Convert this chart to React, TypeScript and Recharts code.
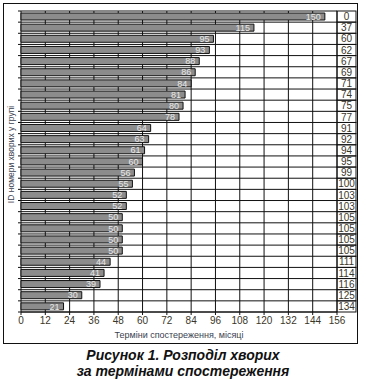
import { BarChart, Bar, XAxis, YAxis, CartesianGrid, LabelList } from "recharts";

// patient IDs (right-hand column), top to bottom
const ids = ["0", "37", "60", "62", "67", "69", "71", "74", "75", "77", "91", "92", "94", "95", "99", "100", "103", "103", "105", "105", "105", "105", "111", "114", "116", "125", "134"];
// follow-up period, months
const months = [150, 115, 95, 93, 88, 86, 84, 81, 80, 78, 64, 63, 61, 60, 56, 55, 52, 52, 50, 50, 50, 50, 44, 41, 39, 30, 21];
const xTicks = [0, 12, 24, 36, 48, 60, 72, 84, 96, 108, 120, 132, 144, 156];

const data = ids.map((id, i) => ({ row: i, id, months: months[i] }));

const W = 366;
const H = 345;
const M = { top: 11, right: 10, bottom: 0, left: 0 };
const X_AXIS_H = 33;
const ID_W = 19;
const PLOT_H = H - M.top - M.bottom - X_AXIS_H;

const font = "'Liberation Sans Narrow', 'Liberation Sans', Arial, sans-serif";
const ink = "#111";

function IdTick(props: any) {
  const { x, y, payload } = props;
  const band = PLOT_H / ids.length;
  return (
    <g>
      <rect x={x} y={y - band / 2} width={ID_W} height={band} fill="none" stroke={ink} strokeWidth={1} />
      <text x={x + ID_W / 2} y={y} dy="0.36em" textAnchor="middle" fontSize={10} fontFamily={font} fill="#3a3628">
        {ids[payload.value]}
      </text>
    </g>
  );
}

function YTitle(props: any) {
  const { viewBox } = props;
  const cx = viewBox.x + viewBox.width / 2;
  const cy = viewBox.y + viewBox.height / 2 - 7;
  return (
    <text
      x={cx}
      y={cy}
      transform={`rotate(-90 ${cx} ${cy})`}
      textAnchor="middle"
      dominantBaseline="central"
      fontSize={8.5}
      fontFamily={font}
      fill="#3b4250"
    >
      ID номери хворих у групі
    </text>
  );
}

export default function App() {
  return (
    <div style={{ position: "absolute", left: 0, top: 0, width: W, height: 379, background: "#fff" }}>
      <div style={{ position: "absolute", left: 3, top: 3, width: 355, height: 341, border: "1.5px solid #111", boxSizing: "border-box" }} />
      <div style={{ position: "absolute", left: 0, top: 0 }}>
        <BarChart width={W} height={H} data={data} layout="vertical" margin={M} barSize={7}>
          <CartesianGrid
            stroke={ink}
            strokeWidth={1}
            horizontalCoordinatesGenerator={({ offset }: any) =>
              Array.from({ length: ids.length + 1 }, (_, i) => offset.top + (i * offset.height) / ids.length)
            }
            horizontal={(p: any) => (
              <line key={`h-${p.index}`} x1={p.x1 - 3} y1={p.y1} x2={p.x2} y2={p.y2} stroke={ink} strokeWidth={1} />
            )}
          />
          <XAxis
            type="number"
            domain={[0, 156]}
            ticks={xTicks}
            interval={0}
            height={X_AXIS_H}
            tick={{ fill: "#3a3628", fontSize: 10, fontFamily: font }}
            tickSize={3}
            tickLine={{ stroke: ink }}
            axisLine={{ stroke: ink }}
            label={{
              value: "Терміни спостереження, місяці",
              position: "insideBottom",
              offset: 7,
              fontSize: 9,
              fontFamily: font,
              fill: "#3b4250",
            }}
          />
          <YAxis
            yAxisId="left"
            type="category"
            dataKey="row"
            width={21}
            tick={false}
            tickLine={false}
            axisLine={false}
            label={(p: any) => <YTitle {...p} />}
          />
          <YAxis
            yAxisId="right"
            orientation="right"
            type="category"
            dataKey="row"
            width={ID_W}
            tickSize={0}
            tickMargin={0}
            tickLine={false}
            axisLine={false}
            interval={0}
            tick={<IdTick />}
          />
          <Bar yAxisId="left" dataKey="months" fill="#8c8c8c" stroke={ink} strokeWidth={1} isAnimationActive={false}>
            <LabelList dataKey="months" position="insideRight" offset={4} fill="#e8e8e8" fontSize={9} fontFamily={font} />
          </Bar>
        </BarChart>
      </div>
      <div
        style={{
          position: "absolute",
          left: 0,
          top: 347,
          width: W,
          textAlign: "center",
          fontFamily: "'Liberation Sans', Arial, sans-serif",
          fontWeight: "bold",
          fontStyle: "italic",
          fontSize: 14,
          lineHeight: "16px",
          color: "#111",
        }}
      >
        Рисунок 1. Розподіл хворих
        <br />
        за термінами спостереження
      </div>
    </div>
  );
}
